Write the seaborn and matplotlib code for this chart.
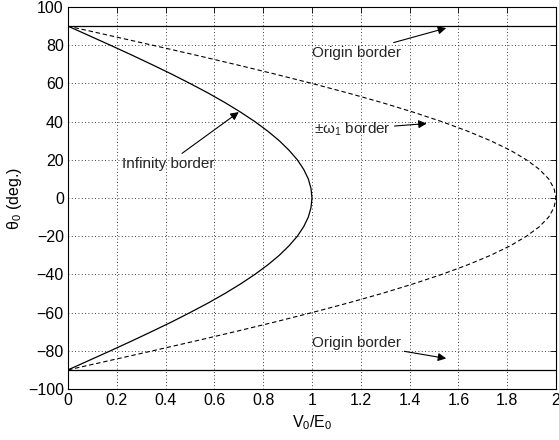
import matplotlib
matplotlib.use("Agg")
import matplotlib.pyplot as plt
import seaborn as sns
import numpy as np
import pandas as pd

# Launch angle (deg.) sampled every 5 degrees
theta_deg = [-90, -85, -80, -75, -70, -65, -60, -55, -50, -45, -40, -35, -30,
             -25, -20, -15, -10, -5, 0, 5, 10, 15, 20, 25, 30, 35, 40, 45,
             50, 55, 60, 65, 70, 75, 80, 85, 90]

# V0/E0 on the infinity border
infinity_v = [0.000, 0.087, 0.174, 0.259, 0.342, 0.423, 0.500, 0.574, 0.643,
              0.707, 0.766, 0.819, 0.866, 0.906, 0.940, 0.966, 0.985, 0.996,
              1.000, 0.996, 0.985, 0.966, 0.940, 0.906, 0.866, 0.819, 0.766,
              0.707, 0.643, 0.574, 0.500, 0.423, 0.342, 0.259, 0.174, 0.087,
              0.000]

# V0/E0 on the +/- omega_1 border
omega_v = [0.000, 0.174, 0.347, 0.518, 0.684, 0.845, 1.000, 1.147, 1.286,
           1.414, 1.532, 1.638, 1.732, 1.813, 1.879, 1.932, 1.970, 1.992,
           2.000, 1.992, 1.970, 1.932, 1.879, 1.813, 1.732, 1.638, 1.532,
           1.414, 1.286, 1.147, 1.000, 0.845, 0.684, 0.518, 0.347, 0.174,
           0.000]

# Origin borders (horizontal)
origin_theta = [90, -90]
origin_x = [0, 2]

x_ticks = [0, 0.2, 0.4, 0.6, 0.8, 1, 1.2, 1.4, 1.6, 1.8, 2]
x_tick_labels = ["0", "0.2", "0.4", "0.6", "0.8", "1", "1.2", "1.4", "1.6", "1.8", "2"]
y_ticks = [-100, -80, -60, -40, -20, 0, 20, 40, 60, 80, 100]

sns.set_theme(style="white")
plt.rcParams["font.family"] = ["Liberation Sans", "DejaVu Sans"]
plt.rcParams["mathtext.fontset"] = "custom"
plt.rcParams["mathtext.rm"] = "Liberation Sans"
plt.rcParams["mathtext.it"] = "Liberation Sans"
plt.rcParams["mathtext.default"] = "rm"

fig = plt.figure(figsize=(5.59, 4.40), dpi=100)
ax = fig.add_axes([0.1216, 0.1159, 0.8730, 0.8681])

inf_df = pd.DataFrame({"v": infinity_v, "theta": theta_deg})
om_df = pd.DataFrame({"v": omega_v, "theta": theta_deg})

sns.lineplot(data=inf_df, x="v", y="theta", sort=False, estimator=None,
             color="black", linewidth=0.9, ax=ax)
sns.lineplot(data=om_df, x="v", y="theta", sort=False, estimator=None,
             color="black", linewidth=0.8, linestyle=(0, (4, 2.5)), ax=ax)
for th in origin_theta:
    sns.lineplot(x=origin_x, y=[th, th], color="black", linewidth=0.9, ax=ax)

ax.set_xlim(0, 2)
ax.set_ylim(-100, 100)
ax.set_xticks(x_ticks)
ax.set_xticklabels(x_tick_labels)
ax.set_yticks(y_ticks)
ax.grid(True, linestyle=(0, (1, 3)), color="black", linewidth=0.6)
ax.tick_params(direction="in", length=4, width=0.6, top=True, right=True,
               labelsize=11.5, colors="black", pad=3)
for s in ax.spines.values():
    s.set_color("black")
    s.set_linewidth(0.8)
    s.set_visible(True)

ax.set_xlabel(r"V$_0$/E$_0$", fontsize=11.5, color="black", labelpad=4)
ax.set_ylabel(r"$\theta_0$ (deg.)", fontsize=11.5, color="black", labelpad=3)

arrow = dict(arrowstyle="-|>", color="black", lw=0.8, mutation_scale=12,
             shrinkA=0, shrinkB=0)
ax.annotate("Origin border", xy=(1.55, 89), xytext=(1.0, 76),
            ha="left", va="center", fontsize=11, arrowprops=arrow)
ax.annotate("Origin border", xy=(1.55, -84), xytext=(1.0, -76),
            ha="left", va="center", fontsize=11, arrowprops=arrow)
ax.annotate(r"$\pm\omega_1$ border", xy=(1.47, 39), xytext=(1.01, 36),
            ha="left", va="center", fontsize=11, arrowprops=arrow)
ax.annotate("Infinity border", xy=(0.70, 45), xytext=(0.22, 18),
            ha="left", va="center", fontsize=11, arrowprops=arrow)

fig.savefig("out.png", dpi=100)
